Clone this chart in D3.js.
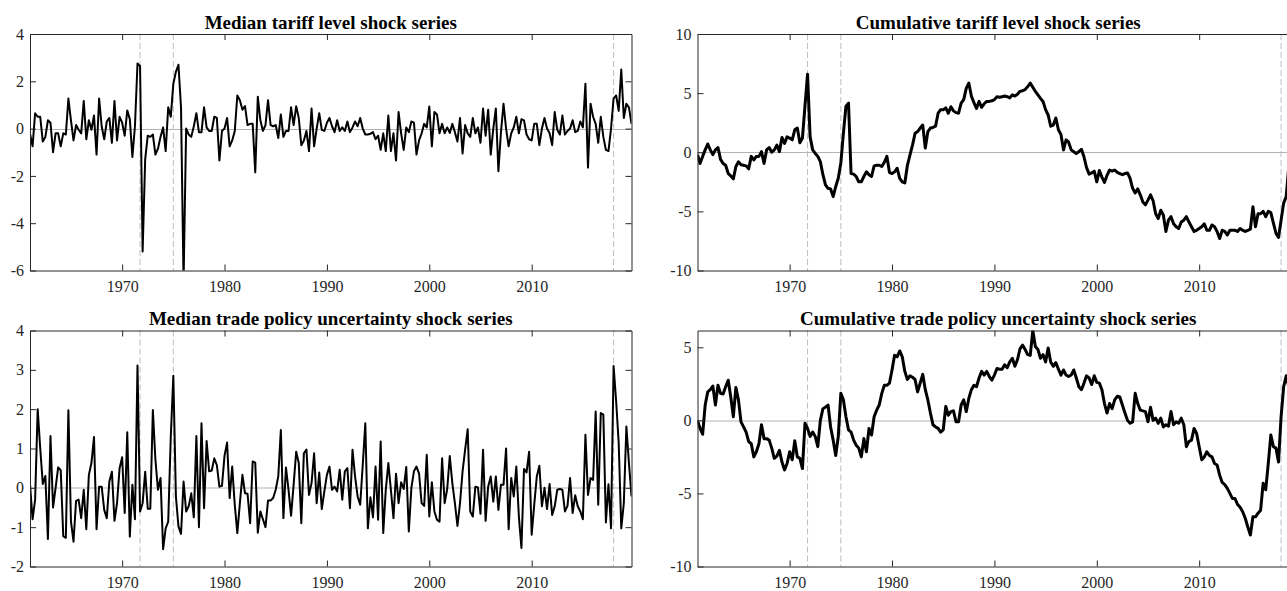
<!DOCTYPE html>
<html>
<head>
<meta charset="utf-8">
<script src="https://cdn.jsdelivr.net/npm/d3@7"></script>
<style>
  html, body { margin: 0; padding: 0; background: #fff; }
  svg { display: block; }
</style>
</head>
<body>
<svg id="chart" width="1287" height="591"></svg>
<script>
// ---------------- DATA ----------------
const startYear = 1961;          // first quarter 1961Q1, quarterly observations
const endYear = 2019.75;
const xTickYears = [1970, 1980, 1990, 2000, 2010];
const eventDates = [1971.75, 1975.0, 2018.0];

const panelTitles = [
  "Median tariff level shock series",
  "Cumulative tariff level shock series",
  "Median trade policy uncertainty shock series",
  "Cumulative trade policy uncertainty shock series"
];

const yTicksMedianTariff = [-6, -4, -2, 0, 2, 4];
const yTicksCumTariff = [-10, -5, 0, 5, 10];
const yTicksMedianTPU = [-2, -1, 0, 1, 2, 3, 4];
const yTicksCumTPU = [-10, -5, 0, 5];

const yDomainMedianTariff = [-6, 4];
const yDomainCumTariff = [-10, 10];
const yDomainMedianTPU = [-2, 4];
const yDomainCumTPU = [-10, 6.15];

const medianTariff = [
  -0.2, -0.75, 0.65, 0.5, 0.5, -0.55, -0.35, 0.35, 0.25, -1.0,
  -0.2, -0.2, -0.75, -0.2, -0.25, 1.27, 0.35, -0.5, 0.15, -0.05,
  -0.2, 1.17, -0.45, 0.35, -0.05, 0.55, -1.1, 1.27, 0.1, -0.45,
  0.3, 0.45, -0.6, 1.17, -0.5, 0.5, 0.25, -0.3, 0.77, 0.4,
  -1.2, 0.1, 2.75, 2.65, -5.2, -1.3, -0.3, -0.35, -0.25, -1.1,
  -0.85, -0.35, 0.05, -0.95, 0.9, 0.5, 1.9, 2.4, 2.7, 0.9,
  -6.5, 0.0, -0.25, -0.35, 0.1, 0.65, -0.15, -0.15, 0.9, 0.05,
  -0.1, -0.1, 0.5, 0.45, -1.35, -0.1, 0.0, 0.45, -0.75, -0.5,
  -0.1, 1.4, 1.2, 0.8, 0.95, 0.15, 0.2, 0.2, -1.85, 1.35,
  0.35, -0.1, 0.15, 1.2, 0.15, 0.1, 0.15, -0.4, 0.6, -0.35,
  -0.1, -0.1, 0.9, 0.15, 0.95, 0.45, -0.7, -0.5, -0.1, -0.95,
  0.85, -0.75, 0.0, 0.65, -0.05, -0.1, 0.25, 0.45,
  0.1, -0.15, 0.35, -0.1, 0.05, -0.1, 0.3, -0.15, 0.05, 0.3,
  0.1, 0.45, 0.0, -0.25, -0.25, -0.22, -0.15, -0.45, -0.3,
  -0.9, -0.2, -0.95, 0.55, -0.95, -0.2, -1.35, 0.7, -0.2, -0.9,
  0.05, -0.15, 0.3, 0.25, -1.1, -0.5, -0.2, 0.2, 0.05, 0.93,
  -0.75, 0.7, 0.6, -0.2, 0.2, -0.2, 0.05, -0.18, 0.2, -0.15,
  -0.55, 0.45, -1.05, 0.15, -0.2, -0.35, 0.45, -0.2, 0.05, -0.6,
  0.85, -0.3, 0.8, -1.1, 0.0, 0.85, -1.8, -0.15, 1.05, 0.0,
  -0.75, -0.2, 0.05, 0.5, -0.2, 0.4, 0.35, -0.25, -0.45, -0.5,
  0.2, 0.2, -0.7, 0.0, 0.45, 0.0, -0.2, -0.7, 0.7, -0.05,
  -0.25, 0.55, -0.25, -0.1, 0.0, 0.35, -0.15, -0.1, 0.3, 0.05,
  1.9, -1.65, 1.05, 0.5, 0.2, -0.6, 0.5, -0.35, -0.9, -0.95,
  0.0, 1.28, 1.4, 0.75, 2.5, 0.45, 1.05, 0.9, 0.2
];

const cumulativeTariff = [
  -0.2, -0.95, -0.35, 0.2, 0.7, 0.2, -0.2, 0.2, 0.4, -0.6,
  -0.95, -1.1, -1.8, -2.0, -2.25, -1.2, -0.8, -1.05, -1.1, -1.15,
  -1.4, -0.35, -0.65, -0.35, -0.35, 0.05, -0.95, 0.2, 0.4, 0.0,
  0.2, 0.6, 0.05, 1.25, 0.75, 1.3, 1.2, 1.05, 1.9, 2.05,
  0.8, 1.2, 3.95, 6.6, 1.3, 0.2, -0.1, -0.35, -0.8, -1.9,
  -2.75, -3.05, -3.1, -3.75, -2.9, -2.2, -0.9, 1.6, 3.9, 4.15,
  -1.8, -1.85, -2.05, -2.5, -2.5, -2.05, -1.65, -1.9, -2.05, -1.15,
  -1.1, -1.1, -1.2, -0.85, -0.35, -1.7, -1.8, -1.65, -1.35, -2.2,
  -2.5, -2.6, -1.1, -0.25, 0.6, 1.6, 1.75, 2.05, 2.3, 0.35,
  1.75, 2.05, 2.1, 2.2, 3.3, 3.6, 3.6, 3.75, 3.3, 3.85,
  3.5, 3.35, 3.3, 4.15, 4.45, 5.4, 5.85,
  4.75, 4.2, 3.7, 4.3, 3.8, 4.1, 4.3, 4.3, 4.35, 4.45,
  4.7, 4.65, 4.7, 4.75, 4.7, 4.6, 4.85, 4.75, 4.9, 5.15,
  5.2, 5.3, 5.55, 5.85, 5.5, 5.15, 4.85, 4.55, 4.3, 3.6,
  3.15, 2.2, 2.3, 2.9, 1.9, 1.5, 0.2, 1.05, 0.85, 0.2,
  0.05, -0.1, 0.05, 0.25, -0.4, -1.3, -1.85, -1.75, -1.6, -2.5,
  -1.55, -2.1, -2.55, -1.95, -1.5, -1.6, -1.5, -1.7, -1.8, -1.9,
  -1.8, -1.75, -2.2, -3.05, -3.45, -3.1, -3.6, -4.2, -4.45, -4.05,
  -3.6, -4.1, -5.2, -5.6, -4.9, -5.3, -6.7, -5.75, -5.45, -6.05,
  -6.3, -6.45, -5.9, -5.75, -5.45, -5.9, -6.3, -6.7, -6.6, -6.45,
  -6.3, -6.05, -6.6, -6.6, -6.15, -6.3, -6.7, -7.3, -6.6, -6.7,
  -7.0, -6.6, -6.6, -6.6, -6.7, -6.45, -6.6, -6.7, -6.6, -6.5,
  -4.6, -6.3, -5.2, -5.2, -5.0, -5.45, -5.0, -5.1, -6.0, -6.85,
  -7.2, -5.75, -4.3, -3.75, -1.2, -0.8, 0.3, 1.1, 1.3
];

const medianTPU = [
  0.1, -0.8, -0.3, 2.0, 1.0, 0.1, 0.3, -1.3, 1.32, -0.5,
  0.0, 0.52, 0.45, -1.23, -1.27, 1.97, -0.85, -1.37, -0.33, -0.3,
  -0.77, -0.05, -1.05, 0.33, 0.63, 1.29, -1.05, 0.03, 0.03, -0.56,
  -0.77, 0.16, 0.41, -0.84, -0.39, 0.5, 0.78, -0.64, 1.41, -1.24,
  0.08, -0.8, 3.11, -0.6, -0.39, 0.41, -0.53, -0.53, 1.98, 0.71,
  -0.05, 0.25, -1.56, -1.03, -0.86, 1.3, 2.85, -0.22, -0.98, -1.17,
  0.16, -0.6, -0.47, -0.14, -0.75, 1.32, -1.0, 1.64, -0.52, 1.19,
  0.42, 0.44, 0.75, 0.58, 0.03, 0.05, 0.82, 1.15, -0.26, 0.54,
  -0.43, -1.15, -0.39, 0.33, -0.14, -0.15, -0.9, 0.67, 0.64, -1.14,
  -0.6, -0.8, -1.0, -0.32, -0.32, -0.26, -0.05, 0.29, 1.47, -0.77,
  0.52, -0.05, -0.71, 0.08, 0.92, 0.63, -0.9, 0.88, 0.97, -0.18,
  0.12, 0.88, -0.39, 0.39, -0.54, -0.09, 0.33, 0.54,
  -0.05, 0.03, -0.09, 0.46, -0.3, 0.42, 0.5, -0.52, 0.97, 0.29,
  -0.22, -0.43, 0.58, 1.64, -1.03, -0.24, -0.75, 0.54, -0.81, 1.18,
  -1.15, -0.05, 0.63, -0.05, -0.77, 0.36, -0.39, 0.14, -0.03, 0.53,
  -1.11, 0.0, 0.42, 0.54, 0.36, -0.39, -0.46, 0.84, -0.73, 0.14,
  -0.6, -0.81, -0.86, 0.75, -0.39, -0.03, 0.81, 0.12, -0.39, -0.97,
  -0.39, 0.42, 0.97, 1.49, -0.6, -0.73, 0.03, 0.01, -0.66, 0.97,
  -0.84, 0.03, 0.29, -0.35, 0.29, -0.56, 0.08, 0.08, 1.0, -1.05,
  0.25, -0.22, 0.54, -0.73, -1.53, 0.48, 0.39, 0.92, -1.19, -0.43,
  0.29, 0.56, -0.47, 0.0, -0.54, 0.1, -0.69, -0.47, -0.05, -0.03,
  -0.05, -0.6, -0.46, 0.25, -0.64, -0.19, -0.47, -0.6, -0.8, 1.35,
  -0.18, 0.25, 0.2, 1.94, -0.43, 1.9, 1.86, -0.88, 0.09, -1.03,
  3.1, 2.2, 1.14, -1.03, -0.39, 1.56, 0.63, -0.22
];

const cumulativeTPU = [
  0.0, -0.55, -0.95, 1.05, 1.95, 2.1, 2.35, 1.05, 2.4, 1.85,
  1.8, 2.3, 2.75, 1.6, 0.25, 2.25, 1.4, -0.1, -0.45, -0.8,
  -1.45, -1.6, -2.5, -2.15, -1.6, -0.3, -1.25, -1.25, -1.35, -1.9,
  -2.6, -2.45, -2.05, -2.85, -3.4, -2.95, -2.15, -2.7, -1.4, -2.5,
  -2.6, -3.3, -0.2, -0.55, -1.1, -0.8, -1.1, -1.8, 0.0, 0.8,
  0.9, 1.05, -0.45, -1.35, -2.4, -1.1, 1.85, 1.4, 0.25, -0.65,
  -0.8, -1.35, -1.7, -1.9, -2.5, -1.25, -2.15, -0.55, -1.0, 0.25,
  0.7, 1.05, 1.85, 2.4, 2.4, 2.55, 3.45, 4.45, 4.35, 4.75,
  4.35, 3.35, 2.8, 3.05, 2.95, 2.8, 1.95, 2.55, 3.15, 2.1,
  1.4, 0.5, -0.3, -0.45, -0.55, -0.8, -0.65, 0.95, 0.35, 0.6,
  0.65, -0.1, -0.1, 1.05, 1.4, 0.6, 1.5, 2.1, 2.4, 2.3,
  2.9, 3.35, 3.1, 3.35, 3.0, 2.75, 3.1, 3.55, 3.5, 3.5,
  3.8, 3.6, 4.0, 4.25, 3.7, 4.15, 4.9, 5.15, 4.85, 4.5,
  4.45, 6.15, 5.05, 4.85, 4.25, 4.5, 4.0, 4.95, 4.0, 3.7,
  3.95, 3.5, 3.1, 3.45, 3.1, 3.0, 3.1, 3.45, 2.9, 2.3,
  2.1, 2.55, 3.05, 2.9, 2.45, 3.05, 2.6, 2.55, 2.1, 1.15,
  0.5, 1.15, 0.8, 1.4, 1.65, 1.6, 1.05, 0.5, 0.0, -0.2,
  -0.1, 1.85, 1.15, 0.7, 0.65, 0.6, -0.1, 0.9, 0.0, 0.15,
  -0.2, 0.15, -0.45, -0.3, -0.4, 0.6, -0.3, -0.1, -0.2, 0.15,
  -0.3, -1.8, -1.45, -1.35, -0.55, -0.9, -1.8, -2.7, -2.5, -2.15,
  -2.4, -2.5, -2.95, -3.05, -3.75, -4.25, -4.4, -4.65, -5.0, -5.35,
  -5.35, -5.75, -5.95, -6.25, -6.7, -7.3, -7.85, -6.6, -6.6, -6.35,
  -6.15, -4.3, -4.75, -2.95, -1.0, -1.8, -1.9, -2.85, 0.25, 2.3,
  3.05, 2.3, 1.9, 3.4, 4.0, 3.8
];

// ---------------- LAYOUT ----------------
const panels = [
  { title: panelTitles[0], values: medianTariff, yDomain: yDomainMedianTariff, yTicks: yTicksMedianTariff,
    left: 30, top: 34, width: 601.5, height: 236.5, lineWidth: 2 },
  { title: panelTitles[1], values: cumulativeTariff, yDomain: yDomainCumTariff, yTicks: yTicksCumTariff,
    left: 697.5, top: 34, width: 601.5, height: 236.5, lineWidth: 3 },
  { title: panelTitles[2], values: medianTPU, yDomain: yDomainMedianTPU, yTicks: yTicksMedianTPU,
    left: 30, top: 330.5, width: 601.5, height: 236, lineWidth: 2 },
  { title: panelTitles[3], values: cumulativeTPU, yDomain: yDomainCumTPU, yTicks: yTicksCumTPU,
    left: 697.5, top: 330.5, width: 601.5, height: 236, lineWidth: 3 }
];

const FONT = "'Liberation Serif', 'Times New Roman', Times, serif";
const AXIS_COLOR = "#262626";
const svg = d3.select("#chart");
const defs = svg.append("defs");

panels.forEach((p, k) => {
  const g = svg.append("g").attr("transform", `translate(${p.left},${p.top})`);
  const x = d3.scaleLinear().domain([startYear, endYear]).range([0, p.width]);
  const y = d3.scaleLinear().domain(p.yDomain).range([p.height, 0]);

  const clipId = "clip" + k;
  defs.append("clipPath").attr("id", clipId)
    .append("rect").attr("x", 0).attr("y", 0).attr("width", p.width).attr("height", p.height);

  // zero reference line
  g.append("line")
    .attr("x1", 0).attr("x2", p.width)
    .attr("y1", Math.round(y(0)) + 0.5).attr("y2", Math.round(y(0)) + 0.5)
    .attr("stroke", "#b3b3b3").attr("stroke-width", 1);

  // event dashed lines
  g.selectAll(".event").data(eventDates).enter().append("line")
    .attr("x1", d => x(d)).attr("x2", d => x(d))
    .attr("y1", 0).attr("y2", p.height)
    .attr("stroke", "#bdbdbd").attr("stroke-width", 1)
    .attr("stroke-dasharray", "6,3");

  // series
  const pts = p.values.map((v, i) => [startYear + i / 4, v]);
  g.append("path")
    .datum(pts)
    .attr("clip-path", `url(#${clipId})`)
    .attr("fill", "none")
    .attr("stroke", "#000")
    .attr("stroke-width", p.lineWidth)
    .attr("stroke-linejoin", "round")
    .attr("d", d3.line().x(d => x(d[0])).y(d => y(d[1])));

  // axes (MATLAB-like: ticks inside on all sides)
  const tickLen = 6;
  const xAxisBottom = d3.axisBottom(x).tickValues(xTickYears).tickSizeInner(-tickLen).tickSizeOuter(0)
    .tickPadding(10).tickFormat(d3.format("d"));
  const xAxisTop = d3.axisTop(x).tickValues(xTickYears).tickSizeInner(-tickLen).tickSizeOuter(0).tickFormat("");
  const yAxisLeft = d3.axisLeft(y).tickValues(p.yTicks).tickSizeInner(-tickLen).tickSizeOuter(0)
    .tickPadding(6).tickFormat(d => String(d));
  const yAxisRight = d3.axisRight(y).tickValues(p.yTicks).tickSizeInner(-tickLen).tickSizeOuter(0).tickFormat("");

  const styleAxis = sel => {
    sel.selectAll("path").attr("stroke", AXIS_COLOR).attr("stroke-width", 1);
    sel.selectAll("line").attr("stroke", AXIS_COLOR).attr("stroke-width", 1);
    sel.selectAll("text").attr("fill", AXIS_COLOR).style("font-family", FONT).style("font-size", "16px");
  };

  g.append("g").attr("transform", `translate(0,${p.height})`).call(xAxisBottom).call(styleAxis);
  g.append("g").call(xAxisTop).call(styleAxis);
  g.append("g").call(yAxisLeft).call(styleAxis);
  g.append("g").attr("transform", `translate(${p.width},0)`).call(yAxisRight).call(styleAxis);

  // title
  g.append("text")
    .attr("x", p.width / 2).attr("y", -5.5)
    .attr("text-anchor", "middle")
    .style("font-family", FONT).style("font-size", "19px").style("font-weight", "bold")
    .attr("fill", "#000")
    .text(p.title);
});
</script>
</body>
</html>
